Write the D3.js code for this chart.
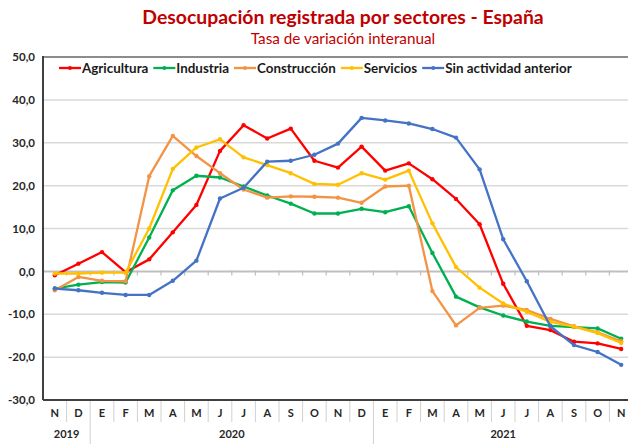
<!DOCTYPE html>
<html lang="es">
<head>
<meta charset="UTF-8">
<title>Desocupación registrada por sectores - España</title>
<script src="https://d3js.org/d3.v7.min.js"></script>
<style>
  body { margin: 0; background: #fff; }
  svg { display: block; font-family: Lato, "Open Sans", sans-serif; }
</style>
</head>
<body>
<svg id="chart"></svg>
<script>
    const width = 628;
    const height = 444;

    // months from Nov 2019 to Nov 2021
    const months = ["N","D","E","F","M","A","M","J","J","A","S","O","N","D",
                    "E","F","M","A","M","J","J","A","S","O","N"];
    const years = ["2019", "2020", "2021"];
    const yearStart = [0, 2, 14];
    const yearEnd = [2, 14, 25];

    const agricultura = [-0.9, 1.8, 4.5, -0.2, 2.8, 9.1, 15.5, 28.1, 34.1, 31.0, 33.3, 25.8, 24.2,
                         29.1, 23.5, 25.2, 21.5, 16.9, 11.0, -2.9, -12.7, -13.7, -16.4, -16.8, -18.1];
    const industria = [-4.0, -3.1, -2.5, -2.6, 7.9, 18.9, 22.3, 21.9, 19.8, 17.7, 15.8, 13.5, 13.5,
                       14.6, 13.8, 15.2, 4.3, -5.9, -8.4, -10.3, -11.7, -12.7, -13.0, -13.3, -15.7];
    const construccion = [-4.4, -1.3, -2.2, -2.3, 22.2, 31.6, 26.9, 22.9, 19.1, 17.2, 17.5, 17.4, 17.2,
                          16.0, 19.8, 20.0, -4.6, -12.6, -8.5, -8.0, -9.0, -11.1, -12.8, -14.2, -16.3];
    const servicios = [-0.5, -0.5, -0.3, -0.3, 10.0, 23.9, 28.9, 30.8, 26.6, 24.8, 22.9, 20.4, 20.2,
                       22.9, 21.4, 23.5, 11.2, 1.0, -3.8, -7.5, -9.4, -11.8, -12.9, -14.4, -16.7];
    const sinActividad = [-4.0, -4.4, -5.0, -5.5, -5.5, -2.2, 2.5, 17.0, 19.5, 25.6, 25.8, 27.2, 29.8,
                          35.8, 35.2, 34.5, 33.2, 31.2, 23.8, 7.5, -2.3, -12.8, -17.2, -18.8, -21.8];

    const seriesNames = ["Agricultura", "Industria", "Construcción", "Servicios", "Sin actividad anterior"];
    const seriesValues = [agricultura, industria, construccion, servicios, sinActividad];
    const seriesColors = ["#FF0000", "#00B050", "#F39344", "#FFC000", "#4472C4"];

    const yTicks = [-30, -20, -10, 0, 10, 20, 30, 40, 50];

    const margin = {top: 57, left: 43, bottom: 44};
    const plotRight = 633; // plot runs past the picture's right edge

    const svg = d3.select("#chart").attr("width", width).attr("height", height);

    const x = d3.scaleBand()
        .domain(d3.range(months.length))
        .range([margin.left, plotRight])
        .paddingInner(0).paddingOuter(0);

    const y = d3.scaleLinear()
        .domain([-30, 50])
        .range([height - margin.bottom, margin.top]);

    const esLocale = d3.formatLocale({decimal: ",", thousands: ".", grouping: [3], currency: ["", "€"], minus: "-"});
    const fmt = esLocale.format(".1f");

    // title
    svg.append("text")
        .attr("x", 343).attr("y", 24)
        .attr("text-anchor", "middle")
        .attr("font-size", 19.4).attr("font-weight", "bold")
        .attr("fill", "#C00000")
        .text("Desocupación registrada por sectores - España");

    svg.append("text")
        .attr("x", 343).attr("y", 44)
        .attr("text-anchor", "middle")
        .attr("font-size", 15.3)
        .attr("fill", "#C00000")
        .text("Tasa de variación interanual");

    // gridlines
    svg.append("g")
        .selectAll("line")
        .data(yTicks.filter(d => d !== 0 && d !== -30 && d !== 50))
        .join("line")
        .attr("x1", margin.left).attr("x2", plotRight)
        .attr("y1", d => y(d)).attr("y2", d => y(d))
        .attr("stroke", "#D9D9D9").attr("stroke-width", 1.5);

    // top border
    svg.append("line")
        .attr("x1", margin.left).attr("x2", plotRight)
        .attr("y1", y(50)).attr("y2", y(50))
        .attr("stroke", "#8C8C8C").attr("stroke-width", 2);

    // zero line with small ticks
    svg.append("line")
        .attr("x1", margin.left).attr("x2", plotRight)
        .attr("y1", y(0)).attr("y2", y(0))
        .attr("stroke", "#BFBFBF").attr("stroke-width", 2);
    svg.append("g")
        .selectAll("line")
        .data(d3.range(1, months.length))
        .join("line")
        .attr("x1", d => x(d)).attr("x2", d => x(d))
        .attr("y1", y(0) - 1).attr("y2", y(0) + 4)
        .attr("stroke", "#BFBFBF").attr("stroke-width", 1.2);

    // y axis labels
    const yAxis = d3.axisLeft(y).tickValues(yTicks).tickFormat(fmt).tickSize(0).tickPadding(8);
    const gy = svg.append("g")
        .attr("transform", `translate(${margin.left},0)`)
        .call(yAxis);
    gy.select(".domain").remove();
    gy.selectAll("text")
        .attr("font-family", "Lato, sans-serif")
        .attr("font-size", 11.5).attr("font-weight", "bold")
        .attr("fill", "#262626");

    // x axis months
    const xAxis = d3.axisBottom(x).tickFormat(i => months[i]).tickSize(0).tickPadding(9);
    const gx = svg.append("g")
        .attr("transform", `translate(0,${y(-30)})`)
        .call(xAxis);
    gx.select(".domain").remove();
    gx.selectAll("text")
        .attr("font-family", "Lato, sans-serif")
        .attr("font-size", 11).attr("font-weight", "bold")
        .attr("fill", "#262626");

    // month separators
    svg.append("g")
        .selectAll("line")
        .data(d3.range(1, months.length).filter(i => !yearStart.includes(i)))
        .join("line")
        .attr("x1", d => x(d)).attr("x2", d => x(d))
        .attr("y1", y(-30)).attr("y2", y(-30) + 22)
        .attr("stroke", "#D0D0D0").attr("stroke-width", 1);

    // year separators and labels
    svg.append("g")
        .selectAll("line")
        .data(yearStart.filter(i => i > 0))
        .join("line")
        .attr("x1", d => x(d)).attr("x2", d => x(d))
        .attr("y1", y(-30)).attr("y2", height)
        .attr("stroke", "#D0D0D0").attr("stroke-width", 1);

    svg.append("g")
        .selectAll("text")
        .data(years)
        .join("text")
        .attr("x", (d, i) => (x(yearStart[i]) + (yearEnd[i] < months.length ? x(yearEnd[i]) : plotRight)) / 2)
        .attr("y", y(-30) + 38)
        .attr("text-anchor", "middle")
        .attr("font-size", 11).attr("font-weight", "bold")
        .attr("fill", "#262626")
        .text(d => d);

    // left and bottom axis lines
    svg.append("line")
        .attr("x1", margin.left).attr("x2", margin.left)
        .attr("y1", y(50) - 1).attr("y2", y(-30))
        .attr("stroke", "#404040").attr("stroke-width", 2);
    svg.append("line")
        .attr("x1", margin.left).attr("x2", plotRight)
        .attr("y1", y(-30)).attr("y2", y(-30))
        .attr("stroke", "#404040").attr("stroke-width", 2);

    // series
    const line = d3.line()
        .x((d, i) => x(i) + x.bandwidth() / 2)
        .y(d => y(d));

    seriesValues.forEach((vals, k) => {
        const g = svg.append("g");
        g.append("path")
            .datum(vals)
            .attr("d", line)
            .attr("fill", "none")
            .attr("stroke", seriesColors[k])
            .attr("stroke-width", 2.3)
            .attr("stroke-linejoin", "round");
        g.selectAll("circle")
            .data(vals)
            .join("circle")
            .attr("cx", (d, i) => x(i) + x.bandwidth() / 2)
            .attr("cy", d => y(d))
            .attr("r", 2.2)
            .attr("fill", seriesColors[k]);
    });

    // legend
    const legend = svg.append("g").attr("transform", `translate(59,${y(50) + 11})`);
    let lx = 0;
    seriesNames.forEach((name, k) => {
        const item = legend.append("g").attr("transform", `translate(${lx},0)`);
        item.append("line")
            .attr("x1", 0).attr("x2", 22).attr("y1", 0).attr("y2", 0)
            .attr("stroke", seriesColors[k]).attr("stroke-width", 2.3);
        item.append("circle").attr("cx", 11).attr("cy", 0).attr("r", 2).attr("fill", seriesColors[k]);
        const t = item.append("text")
            .attr("x", 23).attr("y", 4.8)
            .attr("font-size", 13.4).attr("font-weight", "bold")
            .attr("fill", "#1a1a1a")
            .text(name);
        lx += 23 + t.node().getComputedTextLength() + 5;
    });
</script>
</body>
</html>
